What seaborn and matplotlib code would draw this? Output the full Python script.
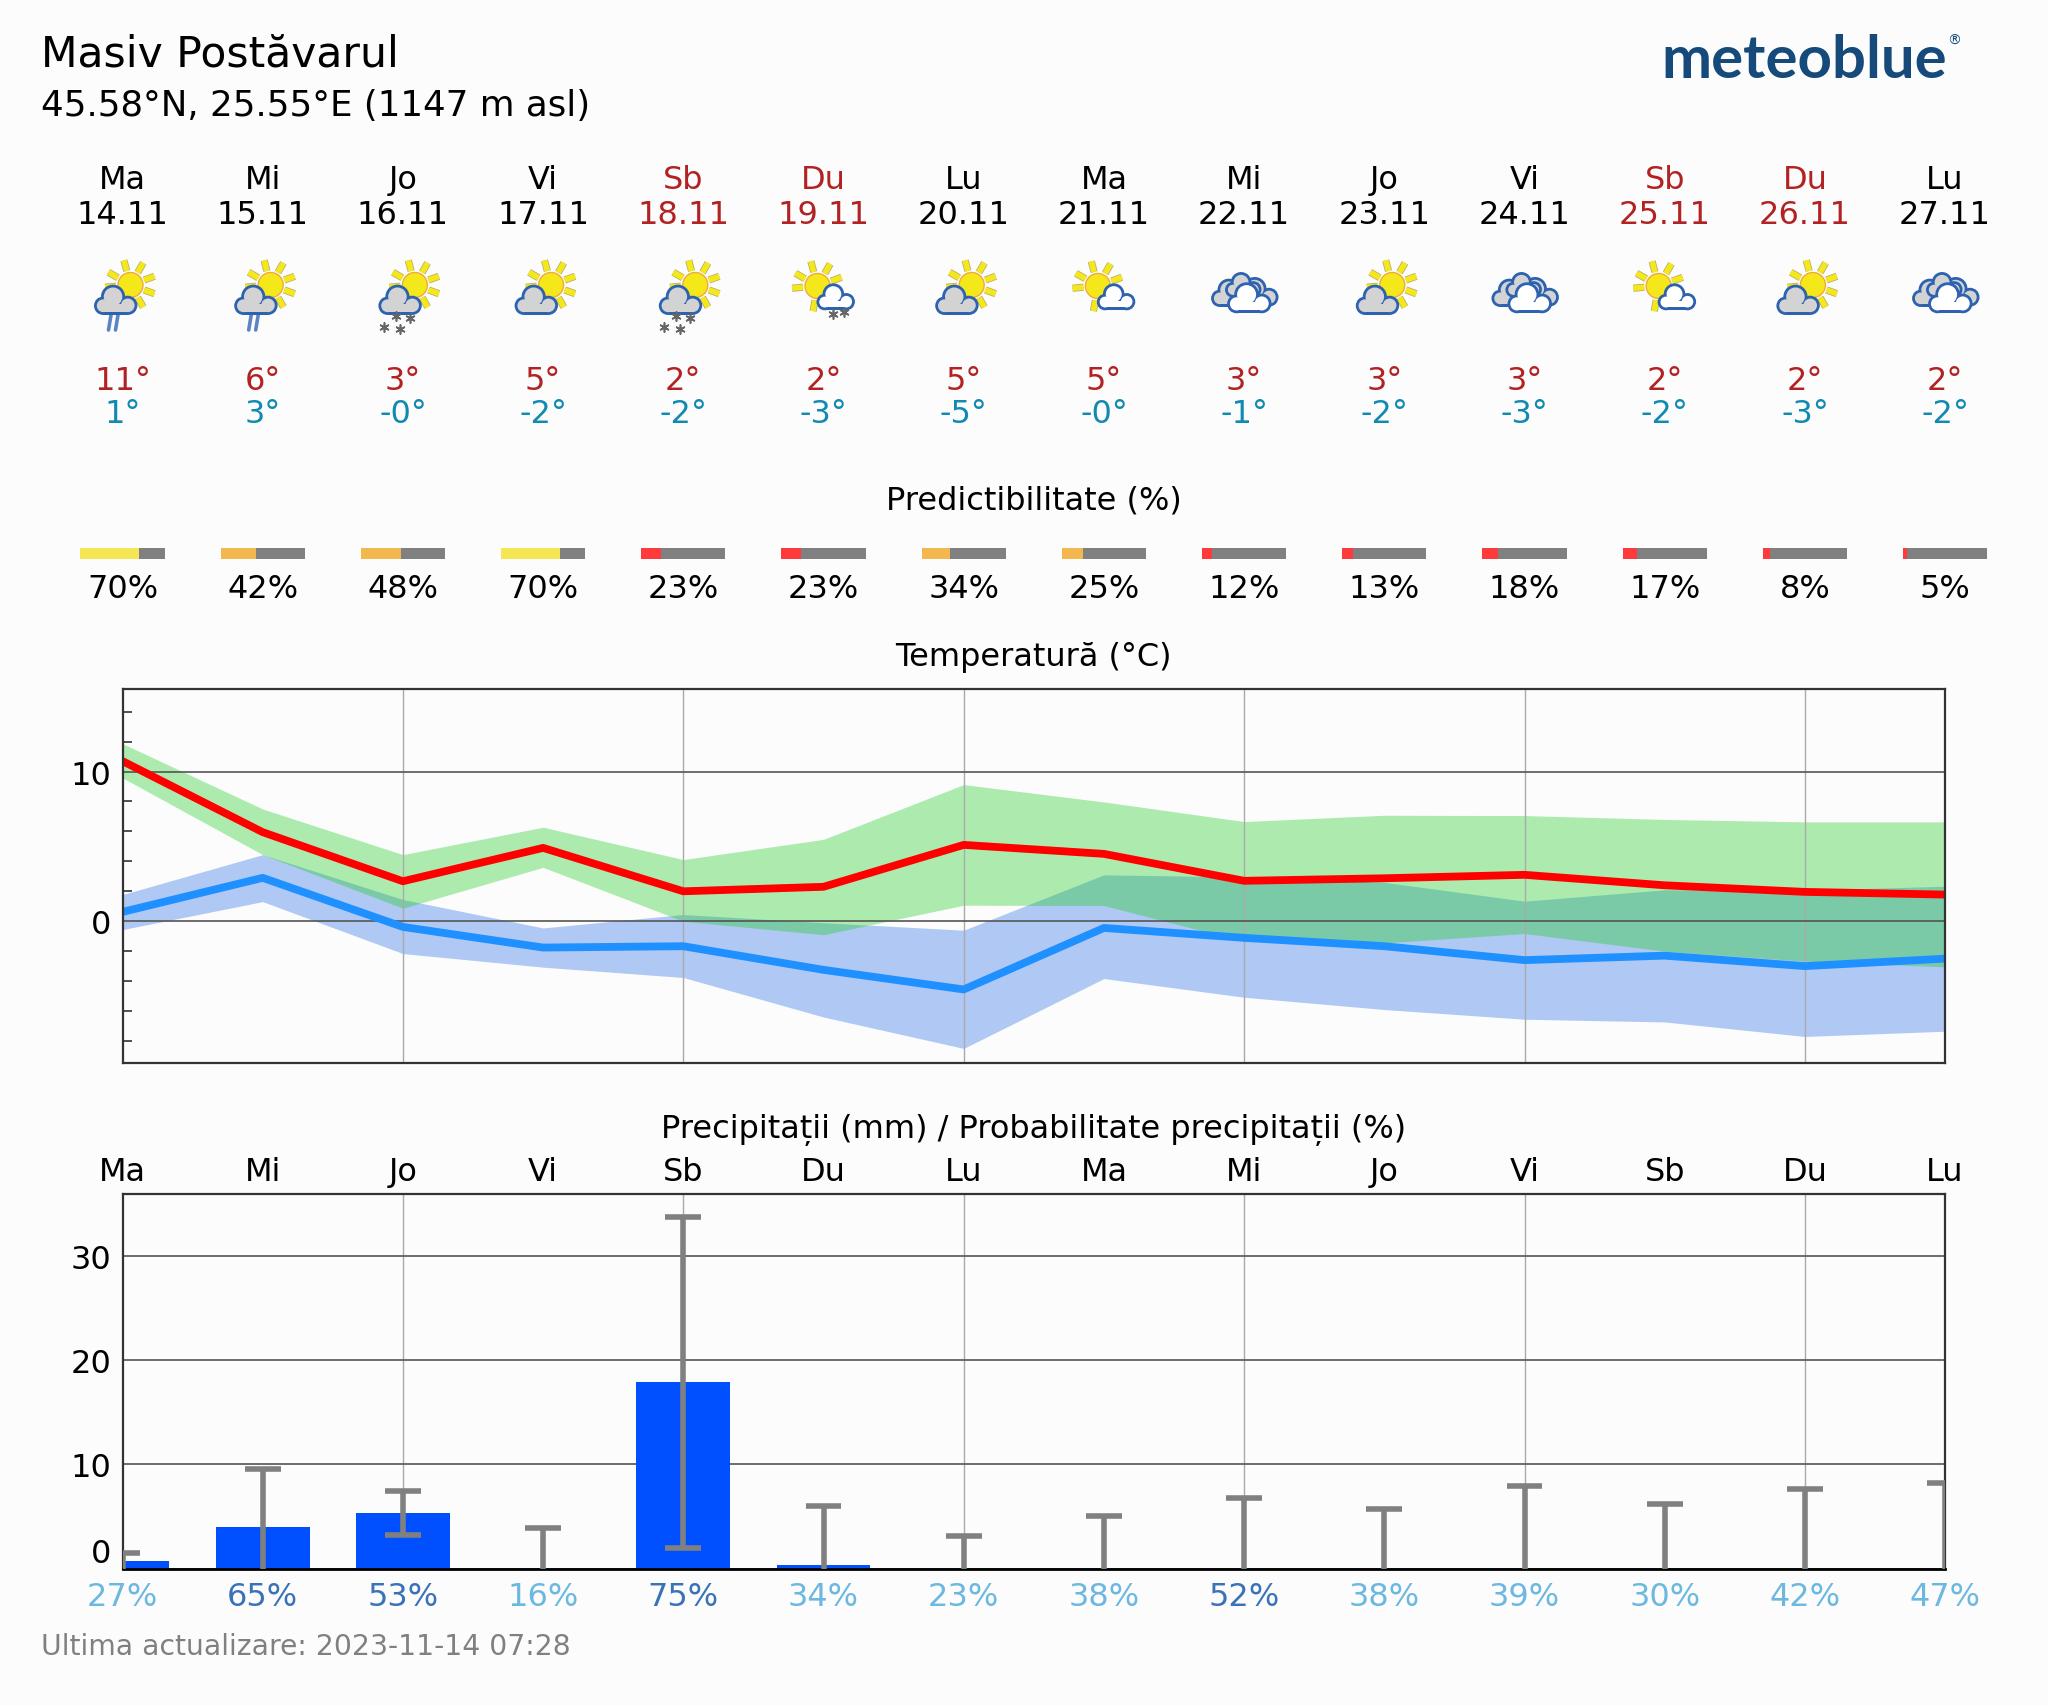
import numpy as np
import pandas as pd
import matplotlib
matplotlib.use('Agg')
import matplotlib.pyplot as plt
from matplotlib.patches import Circle, Rectangle
import seaborn as sns

# date
days = ['Ma','Mi','Jo','Vi','Sb','Du','Lu','Ma','Mi','Jo','Vi','Sb','Du','Lu']
dates = ['14.11','15.11','16.11','17.11','18.11','19.11','20.11','21.11','22.11','23.11','24.11','25.11','26.11','27.11']
weekend = [4, 5, 11, 12]
icons = ['rain','rain','snow','plain','snow','small_snow','plain','small','over','plain','over','small','plain','over']
t_high = ['11°','6°','3°','5°','2°','2°','5°','5°','3°','3°','3°','2°','2°','2°']
t_low = ['1°','3°','-0°','-2°','-2°','-3°','-5°','-0°','-1°','-2°','-3°','-2°','-3°','-2°']
predict = [70,42,48,70,23,23,34,25,12,13,18,17,8,5]

tmax = [10.7,5.95,2.67,4.9,2.0,2.3,5.1,4.5,2.7,2.87,3.1,2.4,1.96,1.78]
tmax_up = [11.87,7.5,4.45,6.28,4.12,5.47,9.13,7.97,6.66,7.08,7.06,6.8,6.64,6.64]
tmax_lo = [9.58,4.45,0.87,3.6,0.0,-0.9,1.07,1.05,-1.36,-1.45,-0.82,-2.0,-2.67,-3.05]
tmin = [0.62,2.9,-0.38,-1.76,-1.67,-3.25,-4.56,-0.45,-1.11,-1.67,-2.6,-2.3,-3.0,-2.5]
tmin_up = [1.78,4.45,1.45,-0.45,0.45,-0.1,-0.6,3.1,2.96,2.6,1.34,2.1,2.07,2.34]
tmin_lo = [-0.56,1.31,-2.16,-3.07,-3.76,-6.4,-8.5,-3.83,-5.08,-5.9,-6.55,-6.73,-7.7,-7.35]

prec = [0.7,4.0,5.35,0,17.9,0.35,0,0,0,0,0,0,0,0]
prec_up = [1.53,9.53,7.5,3.9,33.75,6.05,3.1,5.1,6.75,5.75,7.9,6.25,7.6,8.25]
prec_lo = [0,0,3.25,0,1.98,0,0,0,0,0,0,0,0,0]
prob = [27,65,53,16,75,34,23,38,52,38,39,30,42,47]

BG = '#fcfcfc'
W, H = 2048, 1706
X0, DX = 122.5, 140.2   # pixel of first day, pixels per day

sns.set_theme(style='ticks', rc={'figure.facecolor': BG, 'axes.facecolor': BG, 'text.color': 'black'})
plt.rcParams['font.family'] = ['DejaVu Sans']
plt.rcParams['font.size'] = 11.5

fig = plt.figure(figsize=(W/200, H/200), dpi=200)

def px_axes(left, top, right, bottom, **kw):
    return fig.add_axes([left/W, 1-bottom/H, (right-left)/W, (bottom-top)/H], **kw)

x = np.arange(14)

# temperatura
ax1 = px_axes(X0, 689.5, X0+13*DX, 1063.5)
ax1.fill_between(x, tmin_lo, tmin_up, color=(37/255,108/255,230/255), alpha=0.355, lw=0)
ax1.fill_between(x, tmax_lo, tmax_up, color=(29/255,207/255,32/255), alpha=0.355, lw=0)
sns.lineplot(x=x, y=tmax, color='#ff0000', lw=2.8, ax=ax1, errorbar=None)
sns.lineplot(x=x, y=tmin, color='#1e90ff', lw=2.8, ax=ax1, errorbar=None)
ax1.set_xlim(0, 13)
ax1.set_ylim(-9.44, 15.55)
ax1.set_yticks([0, 10])
ax1.set_yticks(np.arange(-8, 16, 2), minor=True)
ax1.tick_params(axis='y', which='minor', direction='in', length=3.2, width=0.6, color='#333333')

# precipitatii
ax2 = px_axes(X0, 1195.2, X0+13*DX, 1569.8)
sns.barplot(x=x, y=prec, color='#0050ff', saturation=1, width=0.67, native_scale=True,
            orient='x', ax=ax2, errorbar=None, zorder=2, linewidth=0, edgecolor='none')
low = np.array(prec_lo, dtype=float)
up = np.array(prec_up, dtype=float)
ax2.vlines(x, low, up, color='#808080', lw=2.0, zorder=3)
ax2.hlines(up, x-0.128, x+0.128, color='#808080', lw=2.0, zorder=3)
ax2.hlines(low[low > 0], x[low > 0]-0.128, x[low > 0]+0.128, color='#808080', lw=2.0, zorder=3)
ax2.set_xlim(0, 13)
ax2.set_ylim(0, 35.9)
ax2.set_yticks([0, 10, 20, 30])
ax2.get_yticklabels()[0].set_va('bottom')

for a, below in ((ax1, 'line'), (ax2, True)):
    a.set_axisbelow(below)
    a.set_xticks(np.arange(2, 13, 2))
    a.set_xticklabels([])
    a.set_xlabel('')
    a.set_ylabel('')
    a.tick_params(axis='x', length=0)
    a.tick_params(axis='y', which='major', length=0, labelsize=11.5, pad=4, labelcolor='black')
    a.grid(axis='x', color='#aaaaaa', lw=0.5)
    a.grid(axis='y', color='#555555', lw=0.6)
    for s in a.spines.values():
        s.set_visible(True)
        s.set_color('#333333')
        s.set_linewidth(0.8)
ax2.spines['bottom'].set_color('black')
ax2.spines['bottom'].set_linewidth(1.0)

# textele de sus si barele de predictibilitate, x in zile, y in pixeli
strip = fig.add_axes([0, 0, 1, 1], facecolor='none')
strip.set_xlim(-X0/DX, (W-X0)/DX)
strip.set_ylim(H, 0)
strip.axis('off')

RED = '#b22222'
for i in x:
    c = RED if i in weekend else 'black'
    strip.text(i, 180.5, days[i], ha='center', va='center', color=c)
    strip.text(i, 215.5, dates[i], ha='center', va='center', color=c)
    strip.text(i, 381.5, t_high[i], ha='center', va='center', color=RED)
    strip.text(i, 414.5, t_low[i], ha='center', va='center', color='#118ab2')
    p = predict[i]
    col = '#f5e655' if p >= 50 else '#f2b84f' if p >= 25 else '#ff3a3a'
    strip.barh(554, 0.6*p/100, left=i-0.3, height=11, color=col, lw=0)
    strip.barh(554, 0.6*(100-p)/100, left=i-0.3+0.6*p/100, height=11, color='#808080', lw=0)
    strip.text(i, 589.5, f'{p}%', ha='center', va='center', color='black')
    strip.text(i, 1172.5, days[i], ha='center', va='center', color='black')
    strip.text(i, 1597.5, f'{prob[i]}%', ha='center', va='center',
               color='#3a72b8' if prob[i] >= 50 else '#6cb8e0')

mid = 6.5
strip.text(mid, 500.5, 'Predictibilitate (%)', ha='center', va='center', color='black')
strip.text(mid, 657.5, 'Temperatură (°C)', ha='center', va='center', color='black')
strip.text(mid, 1130, 'Precipitații (mm) / Probabilitate precipitații (%)', ha='center', va='center', color='black')

# titlu, logo, subsol
deco = fig.add_axes([0, 0, 1, 1], facecolor='none')
deco.set_xlim(0, W)
deco.set_ylim(H, 0)
deco.axis('off')
deco.text(41, 54, 'Masiv Postăvarul', fontsize=15.3, va='center', color='black')
deco.text(41, 106, '45.58°N, 25.55°E (1147 m asl)', fontsize=12.85, va='center', color='black')
deco.text(41, 1647, 'Ultima actualizare: 2023-11-14 07:28', fontsize=10.2, va='center', color='#808080')
deco.text(1947, 78, 'meteoblue', fontsize=21.6, family='Lato', weight='bold', ha='right',
          va='baseline', color='#154a7a')
deco.text(1947, 41, '®', fontsize=5, ha='left', va='center', color='#154a7a')

BLUE = '#2d62b0'

def sun(cx, cy, r=12.5):
    for ang in np.deg2rad([-150, -105, -60, -20, 20, 60, 100, 175]):
        xs = [cx+(r+2)*np.cos(ang), cx+(r+13)*np.cos(ang)]
        ys = [cy+(r+2)*np.sin(ang), cy+(r+13)*np.sin(ang)]
        deco.plot(xs, ys, color='#b8b070', lw=2.6, solid_capstyle='butt', zorder=1)
        deco.plot(xs, ys, color='#f5e81a', lw=2.0, solid_capstyle='butt', zorder=1.1)
    deco.add_patch(Circle((cx, cy), r, fc='#f5e81a', ec='#f2a93a', lw=0.5, zorder=1.2))

def cloud(cx, cy, w, fill, z=3, lw_px=2.8):
    # buclele norului: cerc albastru, apoi cerc plin peste el
    lobes = [(-0.30, 0.14, 0.19), (-0.06, -0.08, 0.26), (0.30, 0.13, 0.20)]
    for ox, oy, rr in lobes:
        deco.add_patch(Circle((cx+ox*w, cy+oy*w), rr*w+lw_px/2, fc=BLUE, lw=0, zorder=z))
    deco.add_patch(Rectangle((cx-0.30*w, cy+0.10*w), 0.60*w, 0.23*w+lw_px/2, fc=BLUE, lw=0, zorder=z))
    for ox, oy, rr in lobes:
        deco.add_patch(Circle((cx+ox*w, cy+oy*w), rr*w-lw_px/2, fc=fill, lw=0, zorder=z+0.1))
    deco.add_patch(Rectangle((cx-0.30*w, cy+0.10*w), 0.60*w, 0.23*w-lw_px/2, fc=fill, lw=0, zorder=z+0.1))

def flakes(px, py, size=3.6):
    deco.plot(px, py, ls='', marker=(6, 2, 0), ms=size, mew=0.6, color='#666666', zorder=5)

for i, kind in zip(x, icons):
    cx = X0+DX*i
    if kind in ('rain', 'snow', 'plain'):
        off = 4 if kind == 'snow' else 0
        sun(cx+8+off, 286)
        cloud(cx-7+off, 301, 41, '#d3d3d3')
        if kind == 'rain':
            for dx in (-13, -6):
                deco.plot([cx+dx+1.5, cx+dx-1], [316, 331], color='#5b84c4', lw=1.3)
        elif kind == 'snow':
            flakes([cx-7, cx+7, cx-19, cx-3], [317, 319, 328, 330])
    elif kind in ('small', 'small_snow'):
        sun(cx-6, 287)
        cloud(cx+12, 298, 36, 'white')
        if kind == 'small_snow':
            flakes([cx+9, cx+20], [315, 313])
    else:
        cloud(cx-13, 294, 38, '#d3d3d3', z=3)
        cloud(cx+13, 293, 40, '#d3d3d3', z=3)
        cloud(cx-1, 286, 34, '#d3d3d3', z=3.5)
        cloud(cx+5, 299, 42, 'white', z=4)

fig.savefig('out.png', dpi=200, facecolor=BG)
